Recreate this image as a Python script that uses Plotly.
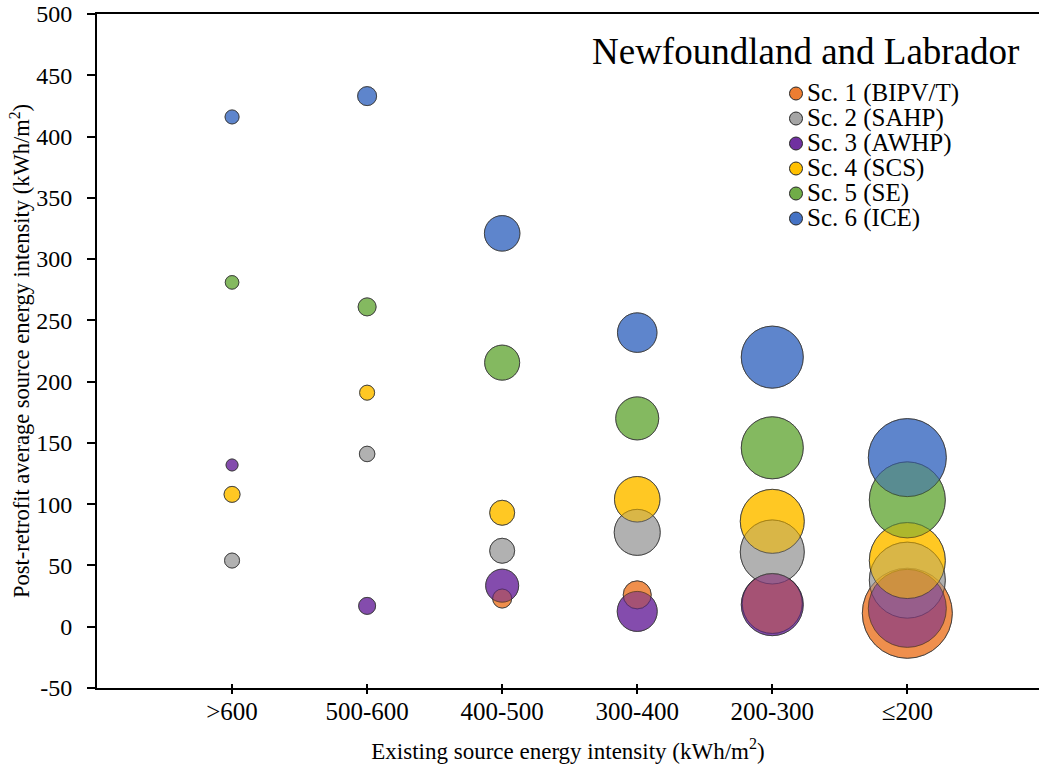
import plotly.graph_objects as go

# ---------------- data ----------------
categories = [">600", "500-600", "400-500", "300-400", "200-300", "≤200"]
series_names = ["Sc. 1 (BIPV/T)", "Sc. 2 (SAHP)", "Sc. 3 (AWHP)",
                "Sc. 4 (SCS)", "Sc. 5 (SE)", "Sc. 6 (ICE)"]
series_colors = ["#ED7D31", "#A5A5A5", "#7030A0", "#FFC000", "#70AD47", "#4472C4"]

sc1_values = [None, None, 23, 26, 19, 11]
sc1_bubble = [None, None, 19, 28, 60, 90]
sc2_values = [54, 141, 62, 77, 61, 38]
sc2_bubble = [15, 15.5, 25, 46, 64, 76]
sc3_values = [132, 17, 33.5, 12.5, 18, 15]
sc3_bubble = [12, 17, 33, 40, 62, 78]
sc4_values = [108, 191, 93, 104, 86, 54]
sc4_bubble = [16, 15, 25, 45.5, 64, 76]
sc5_values = [281, 261, 215.5, 170, 146, 103.5]
sc5_bubble = [13.6, 18, 35, 43, 62, 76]
sc6_values = [416, 433, 321, 240, 220, 138]
sc6_bubble = [14, 19, 35.5, 39.5, 62, 78]

y_ticks = [-50, 0, 50, 100, 150, 200, 250, 300, 350, 400, 450, 500]

all_values = [sc1_values, sc2_values, sc3_values, sc4_values, sc5_values, sc6_values]
all_bubble = [sc1_bubble, sc2_bubble, sc3_bubble, sc4_bubble, sc5_bubble, sc6_bubble]

x_pos = [i + 1 for i in range(len(categories))]
FONT = "Liberation Serif, Times New Roman, serif"
ALPHA = 0.75

W, H = 1039, 765
PLOT_L, PLOT_T, PLOT_B = 97, 14, 688
M_L, M_T, M_B, M_R = PLOT_L, PLOT_T, H - PLOT_B, 0
PW = W - M_L - M_R
PH = H - M_T - M_B


def rgba(hex_color, a):
    h = hex_color.lstrip("#")
    r, g, b = int(h[0:2], 16), int(h[2:4], 16), int(h[4:6], 16)
    return f"rgba({r},{g},{b},{a})"


def points(i):
    xs, ys, ss = [], [], []
    for x, v, s in zip(x_pos, all_values[i], all_bubble[i]):
        if v is not None:
            xs.append(x)
            ys.append(v)
            ss.append(s)
    return xs, ys, ss


def px_to_paper_x(px):
    return (px - PLOT_L) / PW


def px_to_paper_y(py):
    return (PLOT_B - py) / PH


fig = go.Figure()

# opaque base layer (reverse order) so that bubbles look solid over white
for i in reversed(range(len(series_names))):
    xs, ys, ss = points(i)
    fig.add_trace(go.Scatter(
        x=xs, y=ys, mode="markers", name=series_names[i],
        marker=dict(size=ss, sizemode="diameter", color=series_colors[i],
                    line=dict(color="#262626", width=1)),
        showlegend=False,
    ))

# translucent layer in series order (shows overlaps like the original)
for i in range(len(series_names)):
    xs, ys, ss = points(i)
    fig.add_trace(go.Scatter(
        x=xs, y=ys, mode="markers", name=series_names[i],
        marker=dict(size=ss, sizemode="diameter",
                    color=rgba(series_colors[i], ALPHA),
                    line=dict(color="rgba(38,38,38,0.8)", width=1)),
        showlegend=False, hoverinfo="skip",
    ))

# inside half of the crossing x ticks
fig.add_trace(go.Scatter(x=[None], y=[None], xaxis="x2", showlegend=False,
                         hoverinfo="skip"))

x_range = [0, 6.975]

# legend drawn manually (tight Excel-like spacing): one text block + symbols
shapes = []
annotations = []
leg_first_row = 93.5
leg_step = 25
leg_sym_x = 796
leg_text_x = 805
for i, col in enumerate(series_colors):
    yc = px_to_paper_y(leg_first_row + i * leg_step)
    shapes.append(dict(
        type="circle", xref="paper", yref="paper",
        xsizemode="pixel", ysizemode="pixel",
        xanchor=px_to_paper_x(leg_sym_x), yanchor=yc,
        x0=-6.5, x1=6.5, y0=-6.5, y1=6.5,
        fillcolor=col, line=dict(color="#262626", width=1),
    ))
legend_text = "<br>".join(f"<span style='font-size:25px'>{n}</span>" for n in series_names)
leg_mid = leg_first_row + leg_step * (len(series_names) - 1) / 2
annotations.append(dict(
    text=legend_text, xref="paper", yref="paper", align="left",
    x=px_to_paper_x(leg_text_x), y=px_to_paper_y(leg_mid),
    xanchor="left", yanchor="middle", showarrow=False,
    font=dict(family=FONT, size=leg_step / 1.3, color="black"),
))

annotations.append(dict(
    text="Newfoundland and Labrador", xref="paper", yref="paper",
    x=px_to_paper_x(1021), y=px_to_paper_y(52), xanchor="right", yanchor="middle",
    showarrow=False, font=dict(family=FONT, size=37, color="black"),
))

fig.update_layout(
    width=W, height=H,
    margin=dict(l=M_L, r=M_R, t=M_T, b=M_B, autoexpand=False),
    paper_bgcolor="white", plot_bgcolor="white",
    font=dict(family=FONT, size=22, color="black"),
    showlegend=False,
    xaxis=dict(
        range=x_range, tickmode="array", tickvals=x_pos, ticktext=categories,
        showgrid=False, zeroline=False, automargin=False,
        showline=True, linecolor="black", linewidth=2, mirror=True,
        ticks="outside", ticklen=4, tickwidth=2, tickcolor="black",
        tickfont=dict(family=FONT, size=25), ticklabelstandoff=-4,
        title=dict(text="Existing source energy intensity (kWh/m<sup>2</sup>)",
                   font=dict(family=FONT, size=23), standoff=19),
    ),
    xaxis2=dict(
        range=x_range, overlaying="x", anchor="y", side="bottom",
        tickmode="array", tickvals=x_pos, showticklabels=False,
        showgrid=False, zeroline=False, showline=False, automargin=False,
        ticks="inside", ticklen=4, tickwidth=2, tickcolor="black",
    ),
    yaxis=dict(
        range=[-50, 500], tickmode="array", tickvals=y_ticks,
        ticktext=[str(v) for v in y_ticks], ticklabeloverflow="allow",
        showgrid=False, zeroline=False, automargin=False,
        showline=True, linecolor="black", linewidth=2, mirror=False,
        ticks="outside", ticklen=8, tickwidth=2, tickcolor="black",
        tickfont=dict(family=FONT, size=24), ticklabelstandoff=10,
        title=dict(text="Post-retrofit average source energy intensity (kWh/m<sup>2</sup>)",
                   font=dict(family=FONT, size=22.5), standoff=0),
    ),
    shapes=shapes,
    annotations=annotations,
)

fig.write_html(
    "out.html",
    config={"displayModeBar": False},
    post_script="document.body.style.margin='0';document.body.style.overflow='hidden';",
)
